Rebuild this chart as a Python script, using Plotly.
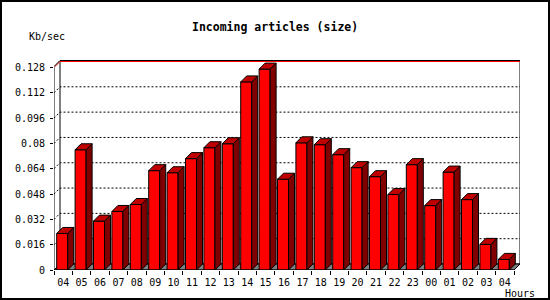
import plotly.graph_objects as go

hours = ["04", "05", "06", "07", "08", "09", "10", "11", "12", "13", "14", "15", "16",
         "17", "18", "19", "20", "21", "22", "23", "00", "01", "02", "03", "04"]
kbsec = [0.0231, 0.0760, 0.0309, 0.0370, 0.0414, 0.0628, 0.0615, 0.0704, 0.0773, 0.0798,
         0.1189, 0.1270, 0.0574, 0.0804, 0.0792, 0.0729, 0.0647, 0.0590, 0.0477, 0.0666,
         0.0407, 0.0619, 0.0445, 0.0162, 0.0067]
ytick_vals = [0, 0.016, 0.032, 0.048, 0.064, 0.08, 0.096, 0.112, 0.128]
ytick_text = ["0", "0.016", "0.032", "0.048", "0.064", "0.08", "0.096", "0.112", "0.128"]

W, H = 550, 300
L, T, PW, PH = 54, 60, 466, 210
CAT = PW / (len(hours) + 0.326)      # pixels per category
KY = 0.128 / 202.5                    # data per pixel (y)
DX = 6 / CAT                          # depth in x data units
DY = 6 * KY                           # depth in y data units
FL, FR = -0.353, 0.245                # front face extent relative to category centre
n = len(hours)
xs = list(range(n))
xmin, xmax = -0.5, -0.5 + PW / CAT
ymin, ymax = 0, PH * KY
ytop = ytick_vals[-1]

def px(x):
    return (x - L) / PW

def py(y):
    return (T + PH - y) / PH

MONO = "DejaVu Sans Mono"
fig = go.Figure()

# front faces
fig.add_trace(go.Bar(
    x=[i + (FL + FR) / 2 for i in xs], y=kbsec, width=FR - FL,
    marker=dict(color="#FF0000", line=dict(color="black", width=1)),
    hoverinfo="skip", showlegend=False))

# side faces
sx, sy = [], []
for i, v in zip(xs, kbsec):
    r = i + FR
    sx += [r, r + DX, r + DX, r, r, None]
    sy += [0, DY, v + DY, v, 0, None]
fig.add_trace(go.Scatter(x=sx, y=sy, mode="lines", fill="toself", fillcolor="#800000",
                         line=dict(color="black", width=1), hoverinfo="skip", showlegend=False))
# top faces
tx, ty = [], []
for i, v in zip(xs, kbsec):
    l, r = i + FL, i + FR
    tx += [l, l + DX, r + DX, r, l, None]
    ty += [v, v + DY, v + DY, v, v, None]
fig.add_trace(go.Scatter(x=tx, y=ty, mode="lines", fill="toself", fillcolor="#C00000",
                         line=dict(color="black", width=1), hoverinfo="skip", showlegend=False))
# invisible trace to carry the label axes
fig.add_trace(go.Scatter(x=xs, y=[None] * n, xaxis="x2", yaxis="y2", mode="lines",
                         hoverinfo="skip", showlegend=False))

shapes = []
xl, xr = -0.5, n - 0.5
# back wall
shapes.append(dict(type="rect", xref="x", yref="y", x0=xl + DX, x1=xr + DX, y0=DY, y1=ytop + DY,
                   line=dict(color="black", width=1), fillcolor="white", layer="below"))
# floor
shapes.append(dict(type="path", xref="x", yref="y",
                   path=f"M {xl},0 L {xr},0 L {xr+DX},{DY} L {xl+DX},{DY} Z",
                   fillcolor="#808080", line=dict(color="black", width=1), layer="below"))
# grid lines
for v in ytick_vals[1:-1]:
    shapes.append(dict(type="path", xref="x", yref="y",
                       path=f"M {xl},{v} L {xl+DX},{v+DY} L {xr+DX},{v+DY}",
                       line=dict(color="black", width=1, dash="2px,2px"), layer="below"))
# top red line
shapes.append(dict(type="path", xref="x", yref="y",
                   path=f"M {xl},{ytop} L {xl+DX},{ytop+DY} L {xr+DX},{ytop+DY}",
                   line=dict(color="#FF0000", width=1), layer="above"))
shapes.append(dict(type="path", xref="x", yref="y",
                   path=f"M {xl},{ytop+KY} L {xl+DX},{ytop+DY+KY} L {xr+DX},{ytop+DY+KY}",
                   line=dict(color="black", width=1), layer="above"))
# front left axis and front floor line
shapes.append(dict(type="path", xref="x", yref="y",
                   path=f"M {xl},{ytop} L {xl},0 L {xr},0 L {xr+DX},{DY}",
                   line=dict(color="black", width=1), layer="above"))
# outer border
shapes.append(dict(type="rect", xref="paper", yref="paper", x0=px(1), x1=px(549), y0=py(1), y1=py(299),
                   line=dict(color="black", width=2), layer="above"))

annotations = [
    dict(text="<b>Incoming articles (size)</b>", xref="paper", yref="paper", x=px(275), y=py(27),
         showarrow=False, font=dict(family=MONO, size=11.5, color="black"), xanchor="center", yanchor="middle"),
    dict(text="Kb/sec", xref="paper", yref="paper", x=px(47), y=py(37),
         showarrow=False, font=dict(family=MONO, size=10, color="black"), xanchor="center", yanchor="middle"),
    dict(text="Hours", xref="paper", yref="paper", x=px(520), y=py(293),
         showarrow=False, font=dict(family=MONO, size=10, color="black"), xanchor="center", yanchor="middle"),
]

fig.update_layout(
    width=W, height=H, margin=dict(l=L, r=W - L - PW, t=T, b=H - T - PH, autoexpand=False),
    paper_bgcolor="white", plot_bgcolor="white",
    shapes=shapes, annotations=annotations, showlegend=False,
    xaxis=dict(range=[xmin, xmax], tickmode="array", tickvals=[i - 0.5 for i in range(n + 1)],
               ticks="outside", ticklen=4, tickcolor="black", tickwidth=1,
               showticklabels=False, showgrid=False, automargin=False,
               zeroline=False, showline=False, fixedrange=True),
    xaxis2=dict(range=[xmin, xmax], overlaying="x", anchor="y2", side="bottom",
                tickvals=xs, ticktext=hours, ticks="outside", ticklen=3, automargin=False,
                tickcolor="rgba(0,0,0,0)", showgrid=False, zeroline=False,
                showline=False, fixedrange=True,
                tickfont=dict(family=MONO, size=10, color="black")),
    yaxis=dict(range=[ymin, ymax], tickvals=ytick_vals, ticks="outside", showticklabels=False,
               ticklen=3, tickcolor="black", showgrid=False, zeroline=False, showline=False,
               fixedrange=True, automargin=False),
    yaxis2=dict(range=[ymin, ymax], overlaying="y", anchor="x2", side="left",
                tickvals=ytick_vals, ticktext=ytick_text, ticks="outside", ticklen=6,
                tickcolor="rgba(0,0,0,0)", showgrid=False, zeroline=False, showline=False,
                fixedrange=True, automargin=False,
                tickfont=dict(family=MONO, size=10, color="black")),
)

fig.write_html("out.html")
